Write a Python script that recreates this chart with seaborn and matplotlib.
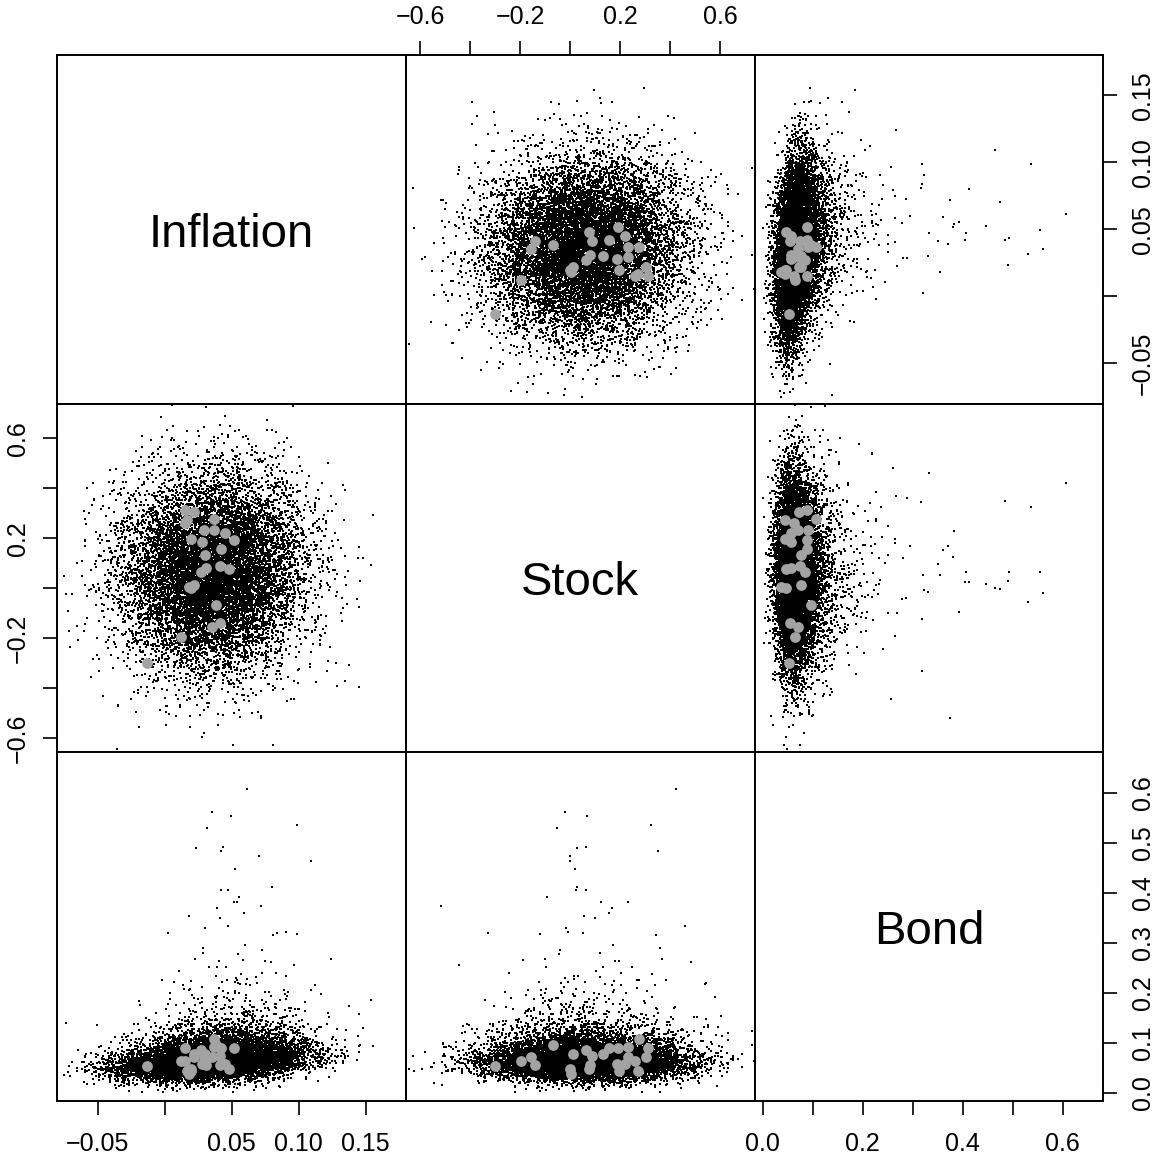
import numpy as np
import pandas as pd
import matplotlib
matplotlib.use("Agg")
import matplotlib.pyplot as plt
import seaborn as sns

# ---------------------------------------------------------------------------
# Data
# ---------------------------------------------------------------------------
variables = ["Inflation", "Stock", "Bond"]

# Historical annual observations (grey points)
hist_inflation = [-0.013, 0.012, 0.035, 0.041, 0.038, 0.018, 0.022, 0.020, 0.027,
                  0.031, 0.030, 0.041, 0.048, 0.042, 0.052, 0.020, 0.028, 0.029,
                  0.037, 0.037, 0.015, 0.017, 0.015, 0.022, 0.045]
hist_stock = [-0.300, -0.195, -0.155, -0.138, -0.068, 0.004, 0.013, 0.000, 0.065,
              0.080, 0.133, 0.089, 0.077, 0.157, 0.192, 0.197, 0.187, 0.233,
              0.233, 0.277, 0.260, 0.273, 0.313, 0.304, 0.220]
hist_bond = [0.053, 0.064, 0.071, 0.055, 0.096, 0.037, 0.077, 0.047, 0.085,
             0.056, 0.077, 0.074, 0.047, 0.089, 0.089, 0.044, 0.057, 0.071,
             0.091, 0.107, 0.063, 0.044, 0.089, 0.072, 0.057]

# Monte Carlo scenario model (black cloud)
n_sim = 12000
infl_mean, infl_sd = 0.036, 0.032
stock_mean, stock_sd = 0.06, 0.19
bond_median, bond_scale, bond_df = 0.065, 0.29, 4
sim_corr = [[1.00, 0.05, 0.30],
            [0.05, 1.00, 0.00],
            [0.30, 0.00, 1.00]]

rng = np.random.default_rng(20240611)
z = rng.multivariate_normal(np.zeros(3), np.array(sim_corr), size=n_sim)
t_bond = z[:, 2] / np.sqrt(rng.chisquare(bond_df, n_sim) / bond_df)
sim = pd.DataFrame({
    "Inflation": infl_mean + infl_sd * z[:, 0],
    "Stock": stock_mean + stock_sd * z[:, 1],
    "Bond": bond_median * np.exp(bond_scale * t_bond),
})
hist = pd.DataFrame({"Inflation": hist_inflation,
                     "Stock": hist_stock,
                     "Bond": hist_bond})

# Axis ranges and tick marks
limits = {"Inflation": (-0.0801, 0.1801),
          "Stock": (-0.656, 0.739),
          "Bond": (-0.016, 0.681)}

infl_ticks = [-0.05, 0.00, 0.05, 0.10, 0.15]
infl_labels = ["\u22120.05", "", "0.05", "0.10", "0.15"]
stock_ticks = [-0.6, -0.4, -0.2, 0.0, 0.2, 0.4, 0.6]
stock_labels = ["\u22120.6", "", "\u22120.2", "", "0.2", "", "0.6"]
bond_ticks = [0.0, 0.1, 0.2, 0.3, 0.4, 0.5, 0.6]
bond_labels_bottom = ["0.0", "", "0.2", "", "0.4", "", "0.6"]
bond_labels_right = ["0.0", "0.1", "0.2", "0.3", "0.4", "0.5", "0.6"]

# ---------------------------------------------------------------------------
# Figure
# ---------------------------------------------------------------------------
sns.set_theme(style="white")
plt.rcParams["font.family"] = ["Liberation Sans", "DejaVu Sans"]
plt.rcParams["axes.unicode_minus"] = True

W, H = 1155, 1157
fig = plt.figure(figsize=(W / 100, H / 100), dpi=100)
fig.patch.set_facecolor("white")

col_edges = [57.3, 406.0, 754.7, 1103.3]
row_edges = [55.0, 403.7, 752.3, 1101.0]

TICK_FS = 18
axes = {}
for i in range(3):
    for j in range(3):
        x0, x1 = col_edges[j], col_edges[j + 1]
        y0, y1 = row_edges[i], row_edges[i + 1]
        ax = fig.add_axes([x0 / W, 1 - y1 / H, (x1 - x0) / W, (y1 - y0) / H])
        ax.set_facecolor("white")
        xvar, yvar = variables[j], variables[i]
        if i != j:
            sns.scatterplot(data=sim, x=xvar, y=yvar, ax=ax, s=3.0, marker="s",
                            color="black", linewidth=0, edgecolor=None)
            sns.scatterplot(data=hist, x=xvar, y=yvar, ax=ax, s=60,
                            color="#A3A3A3", linewidth=0, edgecolor=None)
        else:
            ax.text(0.5, 0.485, variables[i], transform=ax.transAxes,
                    ha="center", va="center", fontsize=34, color="black")
        ax.set_xlim(limits[xvar])
        ax.set_ylim(limits[yvar])
        ax.set_xlabel("")
        ax.set_ylabel("")
        ax.grid(False)
        for sp in ax.spines.values():
            sp.set_visible(True)
            sp.set_color("black")
            sp.set_linewidth(1.4)
        ax.tick_params(which="both", bottom=False, top=False, left=False,
                       right=False, labelbottom=False, labeltop=False,
                       labelleft=False, labelright=False)
        ax.tick_params(direction="out", length=10, width=1.2, color="black",
                       labelsize=TICK_FS, labelcolor="black", pad=12)
        axes[(i, j)] = ax

# Top axis: Stock
ax = axes[(0, 1)]
ax.set_xticks(stock_ticks)
ax.set_xticklabels(stock_labels)
ax.tick_params(axis="x", top=True, labeltop=True, pad=9)

# Bottom axes: Inflation and Bond
ax = axes[(2, 0)]
ax.set_xticks(infl_ticks)
ax.set_xticklabels(infl_labels)
ax.tick_params(axis="x", bottom=True, labelbottom=True)

ax = axes[(2, 2)]
ax.set_xticks(bond_ticks)
ax.set_xticklabels(bond_labels_bottom)
ax.tick_params(axis="x", bottom=True, labelbottom=True)

# Left axis: Stock
ax = axes[(1, 0)]
ax.set_yticks(stock_ticks)
ax.set_yticklabels(stock_labels)
ax.tick_params(axis="y", left=True, labelleft=True, labelrotation=90, pad=10)

# Right axes: Inflation and Bond
ax = axes[(0, 2)]
ax.set_yticks(infl_ticks)
ax.set_yticklabels(infl_labels)
ax.tick_params(axis="y", right=True, labelright=True, labelrotation=90, pad=10)

ax = axes[(2, 2)]
ax.set_yticks(bond_ticks)
ax.set_yticklabels(bond_labels_right)
ax.tick_params(axis="y", right=True, labelright=True, labelrotation=90, pad=10)

for key in [(1, 0), (0, 2), (2, 2)]:
    for lab in axes[key].get_yticklabels():
        lab.set_va("center")

fig.savefig("out.png", dpi=100, facecolor="white")
